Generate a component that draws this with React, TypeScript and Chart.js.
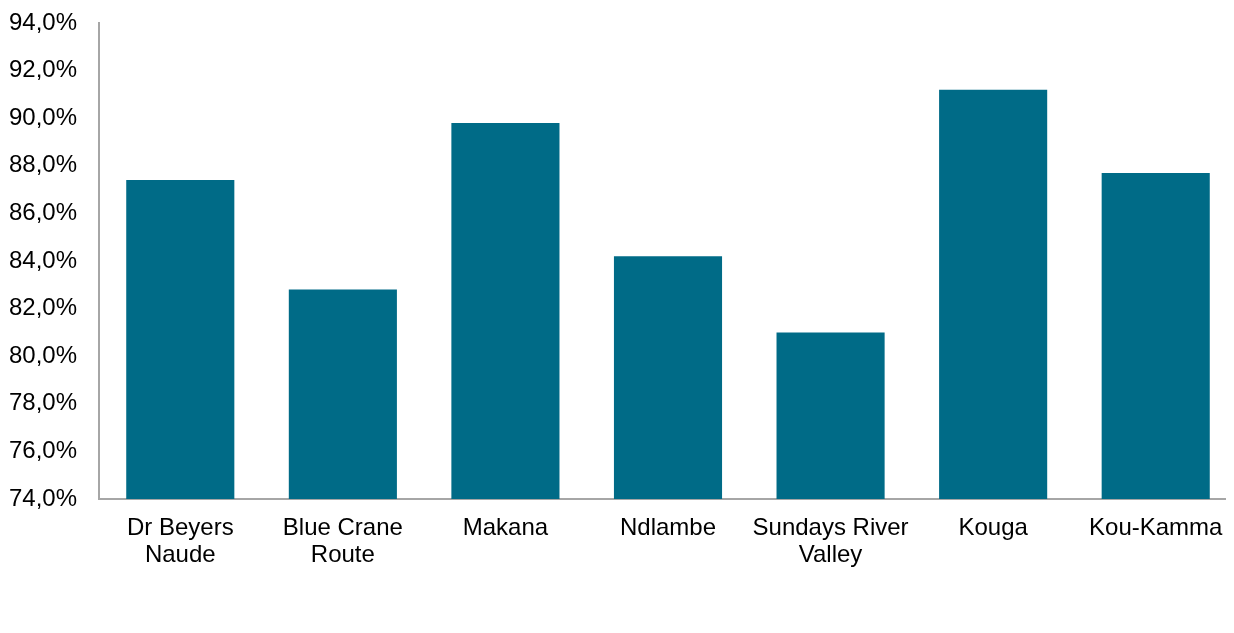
import React, { useEffect, useRef } from "react";
import { Chart, registerables } from "chart.js";

Chart.register(...registerables);

const categories: (string | string[])[] = [
  ["Dr Beyers", "Naude"],
  ["Blue Crane", "Route"],
  "Makana",
  "Ndlambe",
  ["Sundays River", "Valley"],
  "Kouga",
  "Kou-Kamma",
];
const values: number[] = [87.4, 82.8, 89.8, 84.2, 81.0, 91.2, 87.7];
const yMin = 74;
const yMax = 94;
const yStep = 2;

export default function App() {
  const ref = useRef<HTMLCanvasElement>(null);
  useEffect(() => {
    if (!ref.current) return;
    const font = { family: "'Liberation Sans', Arial, sans-serif", size: 24, lineHeight: 1.125 };
    const chart = new Chart(ref.current, {
      type: "bar",
      data: {
        labels: categories,
        datasets: [
          {
            data: values,
            backgroundColor: "#006B87",
            barPercentage: 0.665,
            categoryPercentage: 1,
          },
        ],
      },
      options: {
        animation: false,
        responsive: false,
        maintainAspectRatio: false,
        layout: { padding: { left: 1, right: 11, top: 15, bottom: 64 } },
        plugins: { legend: { display: false }, tooltip: { enabled: false } },
        scales: {
          x: {
            grid: { display: false, drawTicks: false },
            border: { display: true, color: "#a6a6a6", width: 2 },
            ticks: { font, color: "#000", padding: 16, maxRotation: 0, autoSkip: false },
            afterFit: (s: any) => {
              s.height = 70;
              s.paddingLeft = 0;
              s.paddingRight = 0;
            },
          },
          y: {
            min: yMin,
            max: yMax,
            grid: { display: false, drawTicks: false },
            border: { display: true, color: "#a6a6a6", width: 2 },
            ticks: {
              stepSize: yStep,
              font,
              color: "#000",
              padding: 22,
              callback: (v: any) => Number(v).toFixed(1).replace(".", ",") + "%",
            },
            afterFit: (s: any) => {
              s.width = 90;
              s.paddingTop = 0;
              s.paddingBottom = 0;
            },
          },
        },
      },
    });
    return () => chart.destroy();
  }, []);
  return (
    <div style={{ width: 1226, height: 625, overflow: "hidden" }}>
      <canvas ref={ref} width={1240} height={625} style={{ display: "block" }} />
    </div>
  );
}
